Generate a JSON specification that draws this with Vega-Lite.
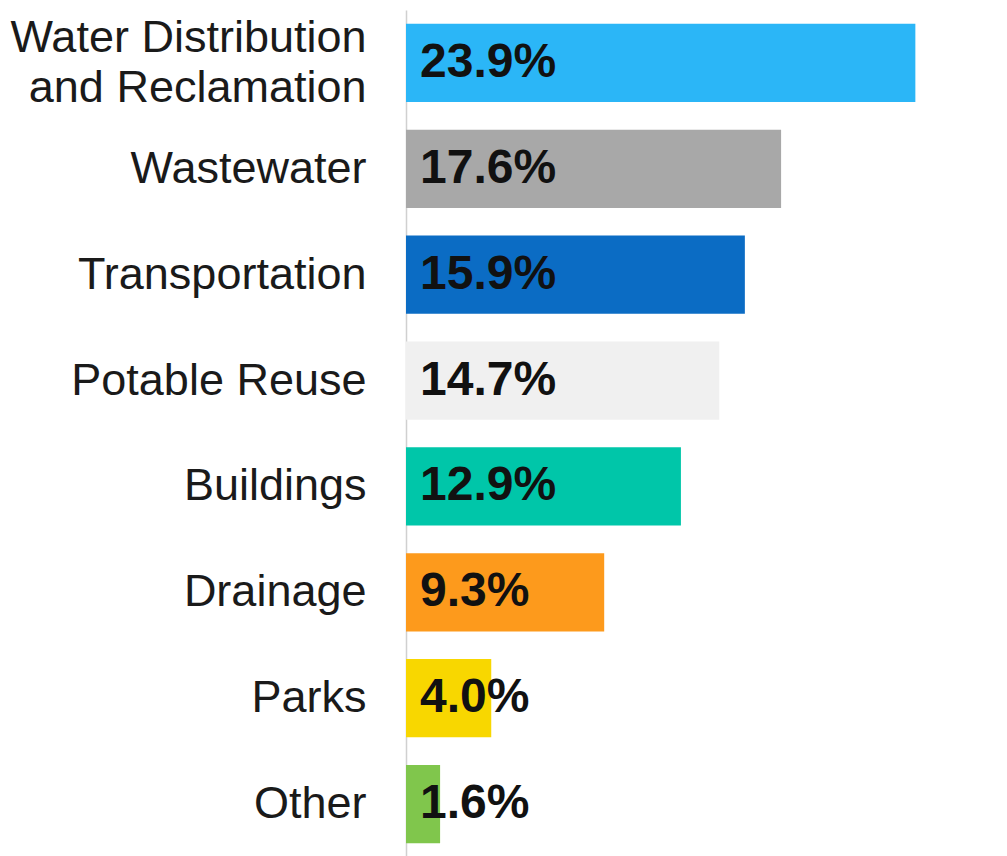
{
  "$schema": "https://vega.github.io/schema/vega-lite/v6.json",
  "autosize": {"type": "none"},
  "padding": {"left": 406, "top": 10, "right": 0, "bottom": 0},
  "width": 601,
  "height": 847,
  "background": "white",
  "data": {
    "values": [
      {"category": "Water Distribution|and Reclamation", "value": 23.9, "label": "23.9%", "color": "#2bb6f7"},
      {"category": "Wastewater", "value": 17.6, "label": "17.6%", "color": "#a8a8a8"},
      {"category": "Transportation", "value": 15.9, "label": "15.9%", "color": "#0b6cc4"},
      {"category": "Potable Reuse", "value": 14.7, "label": "14.7%", "color": "#f0f0f0"},
      {"category": "Buildings", "value": 12.9, "label": "12.9%", "color": "#00c6a9"},
      {"category": "Drainage", "value": 9.3, "label": "9.3%", "color": "#fd9a1c"},
      {"category": "Parks", "value": 4.0, "label": "4.0%", "color": "#f8d700"},
      {"category": "Other", "value": 1.6, "label": "1.6%", "color": "#80c64c"}
    ]
  },
  "encoding": {
    "y": {
      "field": "category",
      "type": "nominal",
      "sort": null,
      "scale": {"paddingInner": 0.26, "paddingOuter": 0.13},
      "axis": {
        "title": null,
        "ticks": false,
        "domain": true,
        "domainColor": "#d0d0d0",
        "domainWidth": 1.5,
        "labelFont": "Liberation Sans",
        "labelFontSize": 45,
        "labelColor": "#1a1a1a",
        "labelPadding": 40,
        "labelLimit": 420,
        "labelLineHeight": 50,
        "labelExpr": "split(datum.label, '|')",
        "labelOffset": {
          "condition": {"test": "indexof(datum.value, '|') >= 0", "value": -25},
          "value": 0
        }
      }
    },
    "x": {
      "field": "value",
      "type": "quantitative",
      "scale": {"domain": [0, 28.2], "nice": false, "zero": true},
      "axis": null
    }
  },
  "layer": [
    {
      "mark": {"type": "bar"},
      "encoding": {
        "color": {"field": "color", "type": "nominal", "scale": null, "legend": null}
      }
    },
    {
      "mark": {
        "type": "text",
        "align": "left",
        "baseline": "middle",
        "dx": 14,
        "font": "Liberation Sans",
        "fontWeight": "bold",
        "fontSize": 48,
        "color": "#111111"
      },
      "encoding": {
        "x": {"datum": 0, "type": "quantitative"},
        "text": {"field": "label", "type": "nominal"}
      }
    }
  ],
  "config": {"view": {"stroke": null}}
}
